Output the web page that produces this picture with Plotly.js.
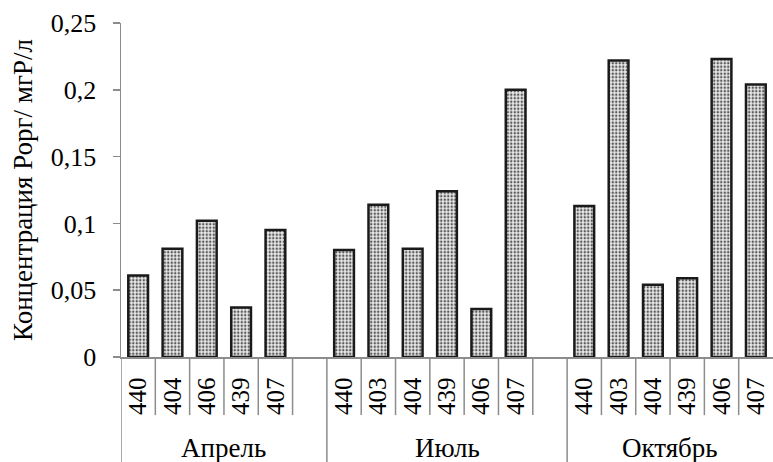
<!DOCTYPE html>
<html>
<head>
<meta charset="utf-8">
<script src="https://cdn.plot.ly/plotly-3.0.1.min.js"></script>
<style>
  html, body { margin: 0; padding: 0; background: #fff; }
  #chart { width: 773px; height: 462px; }
</style>
</head>
<body>
<div id="chart"></div>
<script>
// Groups (months) and stations
const months = ["Апрель", "Июль", "Октябрь"];
const stationsApr = ["440", "404", "406", "439", "407"];
const stationsJul = ["440", "403", "404", "439", "406", "407"];
const stationsOct = ["440", "403", "404", "439", "406", "407"];
// Concentration values (mgP/l)
const valuesApr = [0.061, 0.081, 0.102, 0.037, 0.095];
const valuesJul = [0.080, 0.114, 0.081, 0.124, 0.036, 0.200];
const valuesOct = [0.113, 0.222, 0.054, 0.059, 0.223, 0.204];
const yTicks = [0, 0.05, 0.1, 0.15, 0.2, 0.25];

// Slot layout: each month followed by one empty slot (except the last)
const groups = [
  { name: months[0], st: stationsApr, v: valuesApr, slots: 6 },
  { name: months[1], st: stationsJul, v: valuesJul, slots: 7 },
  { name: months[2], st: stationsOct, v: valuesOct, slots: 6 }
];

const FAMILY = "Liberation Serif";
const xs = [], ys = [], labels = [];
const shapes = [], annotations = [];
let start = 0;
const lineColor = "#8c8c8c";
groups.forEach(g => {
  g.v.forEach((val, i) => { xs.push(start + i); ys.push(val); labels.push(g.st[i]); });
  // long divider at group start
  shapes.push({ type: "line", xref: "x", yref: "paper", x0: start - 0.5, x1: start - 0.5, y0: 0, y1: -0.32,
    line: { color: lineColor, width: 1.5 } });
  // short dividers between stations (and after last station)
  for (let i = 0; i < g.st.length; i++) {
    if (start + i + 0.5 < start + g.slots - 0.5) {
      shapes.push({ type: "line", xref: "x", yref: "paper", x0: start + i + 0.5, x1: start + i + 0.5, y0: 0, y1: -0.174,
        line: { color: lineColor, width: 1.5 } });
    }
  }
  annotations.push({ xref: "x", yref: "paper", x: start + (g.slots - 1) / 2, y: -0.272, text: g.name,
    showarrow: false, xanchor: "center", yanchor: "middle",
    font: { family: FAMILY, size: 27, color: "#000" } });
  start += g.slots;
});
const nSlots = start;

const trace = {
  type: "bar",
  x: xs,
  y: ys,
  marker: {
    color: "#ebebeb",
    line: { color: "#1a1a1a", width: 2.5 },
    pattern: { shape: ".", fgcolor: "#5a5a5a", bgcolor: "#ebebeb", size: 3.5, solidity: 0.4 }
  },
  hoverinfo: "skip"
};

const layout = {
  width: 773, height: 462,
  margin: { l: 121, r: 0, t: 23, b: 105, pad: 0 },
  paper_bgcolor: "#fff", plot_bgcolor: "#fff",
  separators: ", ",
  font: { family: FAMILY, size: 25, color: "#000" },
  bargap: 0.425,
  showlegend: false,
  xaxis: {
    range: [-0.5, nSlots - 0.5],
    tickvals: xs,
    ticktext: labels,
    tickangle: -90,
    ticks: "",
    showgrid: false, zeroline: false,
    showline: true, linecolor: lineColor, linewidth: 1.5,
    tickfont: { family: FAMILY, size: 25, color: "#000" },
    ticklabelstandoff: 9,
    fixedrange: true
  },
  yaxis: {
    range: [0, 0.25],
    tickvals: yTicks,
    ticks: "outside", ticklen: 7, tickwidth: 1.5, tickcolor: lineColor,
    showgrid: false, zeroline: false,
    showline: true, linecolor: lineColor, linewidth: 1.5,
    tickfont: { family: FAMILY, size: 26, color: "#000" },
    ticklabelstandoff: 11,
    title: { text: "Концентрация Рорг/ мгР/л", font: { family: FAMILY, size: 27, color: "#000" }, standoff: 10 },
    fixedrange: true
  },
  shapes: shapes,
  annotations: annotations
};

Plotly.newPlot("chart", [trace], layout, { displayModeBar: false, staticPlot: true });
</script>
</body>
</html>
